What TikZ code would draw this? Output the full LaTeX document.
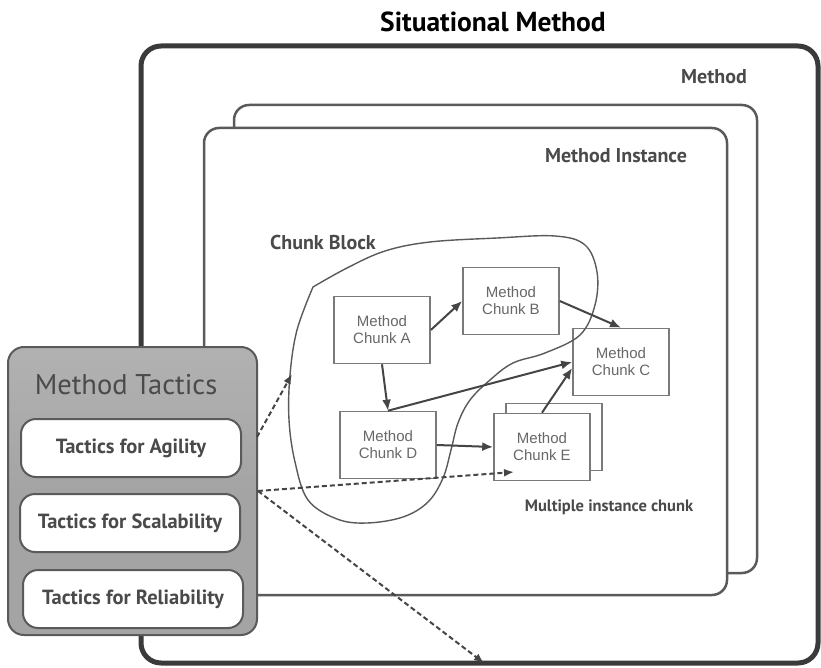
\documentclass[tikz,border=0pt]{standalone}
\usepackage{fontspec}
\setmainfont{PT Sans}
\newfontfamily\chunkfont{Liberation Sans}
\usetikzlibrary{arrows.meta,calc}
\definecolor{linedark}{HTML}{3A3A3A}
\definecolor{linemid}{HTML}{5A5A5A}
\definecolor{chunkline}{HTML}{7A7A7A}
\definecolor{chunktext}{HTML}{686868}
\definecolor{labeltext}{HTML}{4A4A4A}
\definecolor{tacticsfill}{HTML}{A4A4A4}
\definecolor{arrowcol}{HTML}{454545}
\begin{document}
\begin{tikzpicture}[x=1pt,y=-1pt,
  framebox/.style={draw=linemid, line width=2.5pt, rounded corners=15pt, fill=white, inner sep=0pt, minimum width=523pt},
  chunk/.style={draw=chunkline, line width=1.6pt, fill=white, minimum width=96pt, minimum height=67pt, inner sep=0pt, align=center, text=chunktext, font=\chunkfont\fontsize{15}{17}\selectfont},
  tactic/.style={draw=linemid, line width=2pt, rounded corners=15pt, fill=white, minimum width=220pt, minimum height=58pt, inner sep=0pt, text=labeltext, font=\bfseries\fontsize{20.5}{24}\selectfont},
  lbl/.style={text=labeltext, font=\bfseries\fontsize{20}{24}\selectfont, inner sep=0pt},
  flow/.style={draw=arrowcol, line width=2pt, -{Latex[length=11pt,width=9pt]}},
  dflow/.style={draw=arrowcol, line width=2pt, dashed, dash pattern=on 5pt off 3pt, -{Latex[length=10pt,width=8pt]}}
]
\useasboundingbox (0,0) rectangle (821,668);
\fill[white] (0,0) rectangle (821,668);

% title
\node[font=\bfseries\fontsize{27.5}{32}\selectfont, inner sep=0pt] (title) at (493,22) {Situational Method};

% outer method box
\node[draw=linedark, line width=5pt, rounded corners=20pt, minimum width=677pt, minimum height=617pt, inner sep=0pt] (method) at (479.5,354.5) {};
\node[lbl] (methodlbl) at (714,77) {Method};

% method instances
\node[framebox, minimum height=468pt] (backinst) at (495.5,339) {};
\node[framebox, minimum height=467pt] (inst) at (465.5,361.5) {};
\node[lbl] (instlbl) at (616,156) {Method Instance};

% chunk block label
\node[lbl] (blocklbl) at (323,242) {Chunk Block};

% chunks
\node[chunk] (Eback) at (554,437) {};
\node[chunk] (A) at (382,330) {Method\\Chunk A};
\node[chunk] (B) at (511,301) {Method\\Chunk B};
\node[chunk] (C) at (621,362) {Method\\Chunk C};
\node[chunk] (D) at (388,445) {Method\\Chunk D};
\node[chunk] (E) at (542,447) {Method\\Chunk E};
\node[text=labeltext, font=\bfseries\fontsize{16.5}{19}\selectfont, inner sep=0pt] (multilbl) at (609,507) {Multiple instance chunk};

% chunk block outline
\draw[draw=linemid, line width=1.4pt] plot[smooth, tension=0.6] coordinates {
 (313,287) (347,268) (385,251) (430,242) (497,238) (555,236) (585,245) (597,272)
 (595,305) (580,335) (545,353) (513,363) (490,380) (470,400) (458,423) (451,450)
 (443,478) (428,502) (403,517) (367,523) (337,519) (308,500) (295,462) (289,420)
 (290,375) (297,330) (313,287)};

% chunk flows
\draw[flow] (A.east) -- (B.west);
\draw[flow] (B.east) -- (C.north);
\draw[flow] (A.south) -- (D.north);
\draw[flow] (D.north) -- (C.west);
\draw[flow] (D.east) -- (E.west);
\draw[flow] (E.north) -- (C.187);

% method tactics
\node[draw=linemid, line width=2pt, rounded corners=16pt, top color=tacticsfill!85!white, bottom color=tacticsfill, middle color=tacticsfill, minimum width=249pt, minimum height=288pt, inner sep=0pt] (tactics) at (132.5,491) {};
\node[text=labeltext, font=\fontsize{28.5}{32}\selectfont, inner sep=0pt] (tacticslbl) at (126,385) {Method Tactics};
\node[tactic] (agility) at (131,448) {Tactics for Agility};
\node[tactic] (scal) at (130,523) {Tactics for Scalability};
\node[tactic] (rel) at (133,599) {Tactics for Reliability};

% dashed influences
\coordinate (t1start) at (257,437);
\coordinate (tip1) at (292,374);
\coordinate (tip2) at (514,472);
\coordinate (tip3) at (484,663);
\draw[dflow] (t1start) -- (tip1);
\draw[dflow] (tactics.east) -- (tip2);
\draw[dflow] (tactics.east) -- (tip3);
\end{tikzpicture}
\end{document}
